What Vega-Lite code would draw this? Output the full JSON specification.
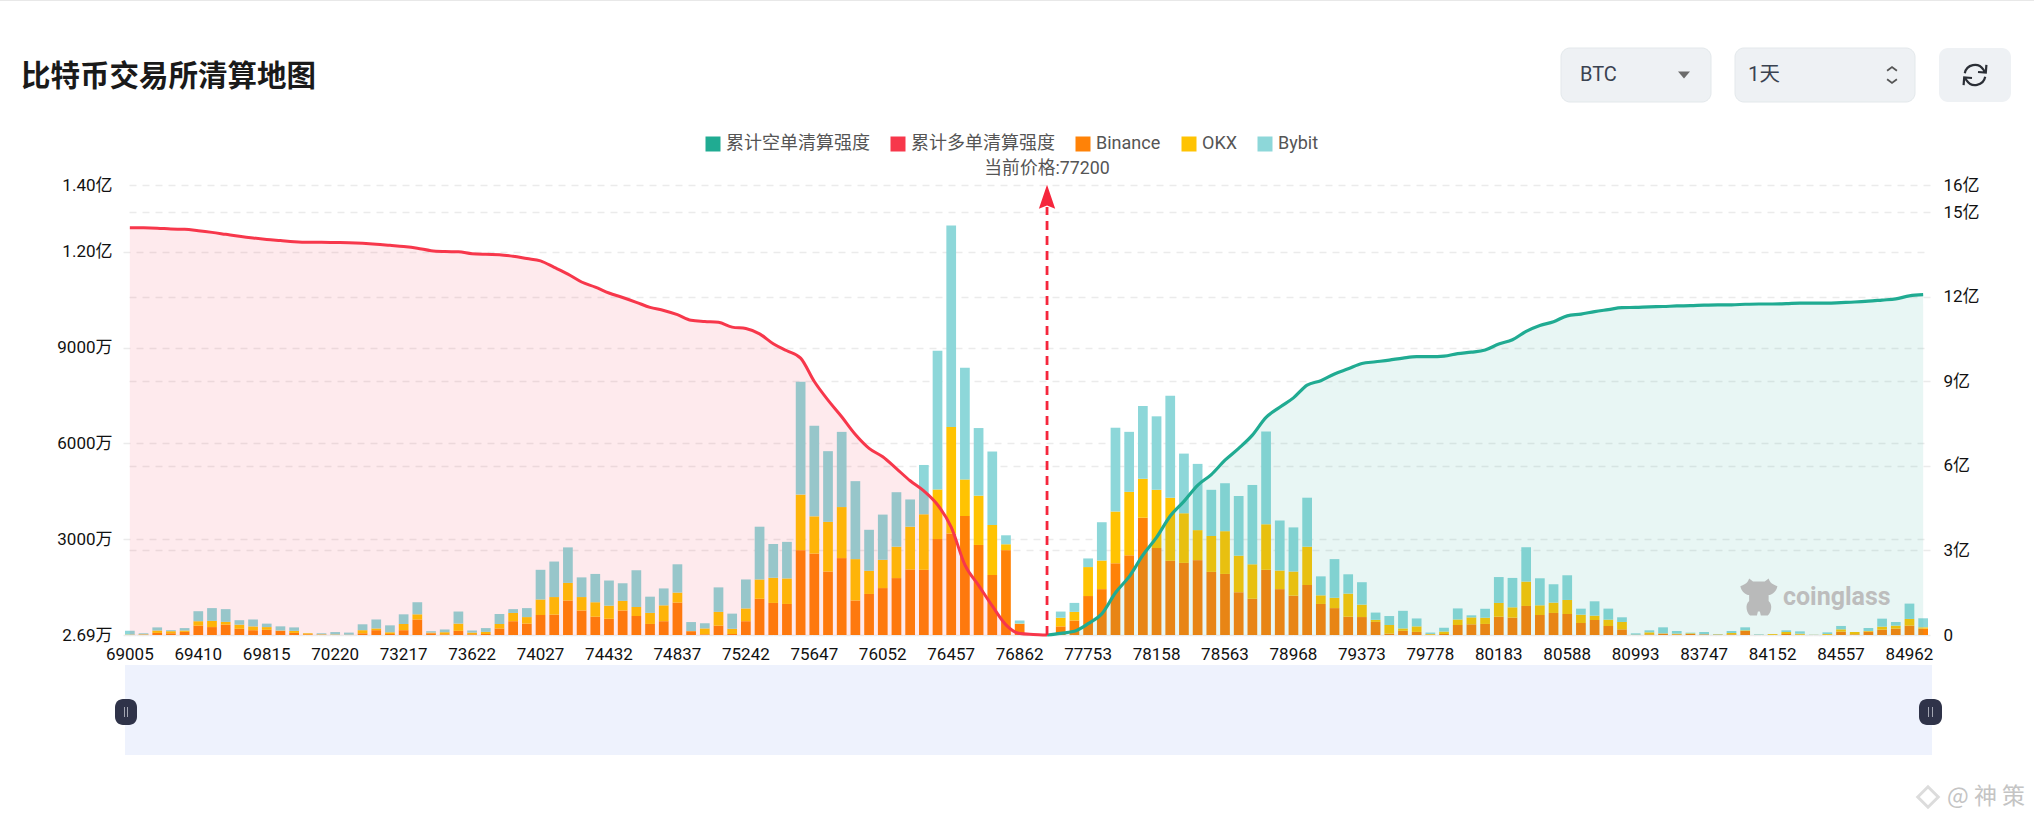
{
  "$schema": "https://vega.github.io/schema/vega-lite/v6.json",
  "width": 1807,
  "height": 450,
  "autosize": {"type": "none"},
  "padding": {"left": 123, "top": 185, "right": 104, "bottom": 188},
  "background": "#ffffff",
  "title": {
    "text": "比特币交易所清算地图",
    "anchor": "start",
    "frame": "group",
    "dx": -102,
    "offset": -92,
    "font": "Noto Sans CJK SC",
    "fontSize": 29.5,
    "fontWeight": "bold",
    "color": "#1a1a1a"
  },
  "config": {
    "view": {"stroke": null},
    "font": "Roboto, Noto Sans CJK SC"
  },
  "datasets": {
    "book": [
      {"price":69005,"Binance":0.03,"OKX":0.11,"Bybit":1.19,"long":1444},
      {"price":69086,"Binance":0.11,"OKX":0.11,"Bybit":0.32,"long":1444},
      {"price":69167,"Binance":0.65,"OKX":0.76,"Bybit":0.97,"long":1443},
      {"price":69248,"Binance":0.54,"OKX":0.65,"Bybit":0.32,"long":1440},
      {"price":69329,"Binance":0.97,"OKX":0.43,"Bybit":0.76,"long":1439},
      {"price":69410,"Binance":2.92,"OKX":1.40,"Bybit":3.13,"long":1434},
      {"price":69491,"Binance":2.48,"OKX":1.94,"Bybit":4.00,"long":1428},
      {"price":69572,"Binance":3.24,"OKX":0.86,"Bybit":4.00,"long":1421},
      {"price":69653,"Binance":1.94,"OKX":1.30,"Bybit":1.40,"long":1414},
      {"price":69734,"Binance":1.51,"OKX":1.19,"Bybit":2.16,"long":1408},
      {"price":69815,"Binance":1.62,"OKX":0.86,"Bybit":1.08,"long":1403},
      {"price":69896,"Binance":1.30,"OKX":0.11,"Bybit":1.30,"long":1399},
      {"price":69977,"Binance":0.65,"OKX":0.65,"Bybit":1.08,"long":1395},
      {"price":70058,"Binance":0.22,"OKX":0.32,"Bybit":0.02,"long":1393},
      {"price":70139,"Binance":0.11,"OKX":0.11,"Bybit":0.32,"long":1393},
      {"price":70220,"Binance":0.05,"OKX":0.11,"Bybit":0.76,"long":1392},
      {"price":70301,"Binance":0.05,"OKX":0.05,"Bybit":0.65,"long":1391},
      {"price":70382,"Binance":0.54,"OKX":0.97,"Bybit":1.84,"long":1389},
      {"price":73055,"Binance":1.51,"OKX":0.54,"Bybit":2.81,"long":1386},
      {"price":73136,"Binance":0.32,"OKX":0.54,"Bybit":2.16,"long":1382},
      {"price":73217,"Binance":1.51,"OKX":1.94,"Bybit":3.02,"long":1378},
      {"price":73298,"Binance":4.86,"OKX":1.62,"Bybit":3.78,"long":1372},
      {"price":73379,"Binance":0.54,"OKX":0.22,"Bybit":0.43,"long":1363},
      {"price":73460,"Binance":0.22,"OKX":0.65,"Bybit":0.86,"long":1360},
      {"price":73541,"Binance":1.30,"OKX":2.27,"Bybit":3.78,"long":1359},
      {"price":73622,"Binance":0.22,"OKX":0.54,"Bybit":0.65,"long":1352},
      {"price":73703,"Binance":0.32,"OKX":0.65,"Bybit":1.19,"long":1350},
      {"price":73784,"Binance":2.05,"OKX":1.40,"Bybit":3.13,"long":1349},
      {"price":73865,"Binance":4.32,"OKX":2.59,"Bybit":1.19,"long":1343},
      {"price":73946,"Binance":3.56,"OKX":2.05,"Bybit":2.81,"long":1335},
      {"price":74027,"Binance":6.26,"OKX":4.86,"Bybit":9.29,"long":1327},
      {"price":74108,"Binance":6.37,"OKX":5.51,"Bybit":11.12,"long":1304},
      {"price":74189,"Binance":10.8,"OKX":5.51,"Bybit":11.12,"long":1280},
      {"price":74270,"Binance":7.67,"OKX":4.21,"Bybit":6.16,"long":1252},
      {"price":74351,"Binance":5.72,"OKX":4.54,"Bybit":8.86,"long":1234},
      {"price":74432,"Binance":5.08,"OKX":4.10,"Bybit":7.88,"long":1213},
      {"price":74513,"Binance":7.67,"OKX":3.02,"Bybit":5.51,"long":1197},
      {"price":74594,"Binance":5.94,"OKX":2.81,"Bybit":11.56,"long":1180},
      {"price":74675,"Binance":3.46,"OKX":3.46,"Bybit":5.08,"long":1162},
      {"price":74756,"Binance":4.32,"OKX":4.97,"Bybit":5.29,"long":1151},
      {"price":74837,"Binance":10.15,"OKX":3.13,"Bybit":8.86,"long":1136},
      {"price":74918,"Binance":1.19,"OKX":0.05,"Bybit":2.81,"long":1116},
      {"price":74999,"Binance":0.22,"OKX":1.84,"Bybit":1.62,"long":1112},
      {"price":75080,"Binance":2.92,"OKX":4.32,"Bybit":7.67,"long":1109},
      {"price":75161,"Binance":0.32,"OKX":1.62,"Bybit":4.75,"long":1092},
      {"price":75242,"Binance":4.32,"OKX":4.00,"Bybit":9.07,"long":1087},
      {"price":75323,"Binance":11.34,"OKX":6.05,"Bybit":16.52,"long":1068},
      {"price":75404,"Binance":10.04,"OKX":7.88,"Bybit":10.58,"long":1033},
      {"price":75485,"Binance":9.72,"OKX":7.99,"Bybit":11.45,"long":1008},
      {"price":75566,"Binance":26.57,"OKX":17.39,"Bybit":35.32,"long":982},
      {"price":75647,"Binance":25.49,"OKX":11.66,"Bybit":28.40,"long":899},
      {"price":75728,"Binance":19.87,"OKX":15.55,"Bybit":22.14,"long":833},
      {"price":75809,"Binance":24.08,"OKX":15.98,"Bybit":23.54,"long":774},
      {"price":75890,"Binance":10.8,"OKX":12.96,"Bybit":24.41,"long":711},
      {"price":75971,"Binance":12.85,"OKX":7.24,"Bybit":12.85,"long":662},
      {"price":76052,"Binance":14.69,"OKX":8.86,"Bybit":14.15,"long":632},
      {"price":76133,"Binance":17.82,"OKX":9.83,"Bybit":17.06,"long":590},
      {"price":76214,"Binance":20.52,"OKX":13.39,"Bybit":8.53,"long":547},
      {"price":76295,"Binance":20.41,"OKX":17.39,"Bybit":15.44,"long":511},
      {"price":76376,"Binance":30.02,"OKX":15.55,"Bybit":43.42,"long":462},
      {"price":76457,"Binance":31.75,"OKX":33.37,"Bybit":63.07,"long":383},
      {"price":76538,"Binance":37.26,"OKX":11.45,"Bybit":34.99,"long":249},
      {"price":76619,"Binance":28.19,"OKX":15.44,"Bybit":21.17,"long":176},
      {"price":76700,"Binance":18.79,"OKX":15.66,"Bybit":23.0,"long":103},
      {"price":76781,"Binance":26.57,"OKX":1.84,"Bybit":2.81,"long":36},
      {"price":76862,"Binance":3.46,"OKX":0.11,"Bybit":0.97,"long":5},
      {"price":76943,"Binance":0,"OKX":0,"Bybit":0,"long":2},
      {"price":77200,"Binance":0,"OKX":0,"Bybit":0,"long":0,"short":0},
      {"price":77591,"Binance":2.7,"OKX":2.7,"Bybit":1.94,"short":6},
      {"price":77672,"Binance":4.54,"OKX":2.7,"Bybit":2.81,"short":13},
      {"price":77753,"Binance":12.2,"OKX":9.07,"Bybit":2.7,"short":40},
      {"price":77834,"Binance":14.36,"OKX":8.96,"Bybit":11.99,"short":75},
      {"price":77915,"Binance":22.46,"OKX":16.2,"Bybit":26.24,"short":150},
      {"price":77996,"Binance":24.95,"OKX":19.87,"Bybit":18.79,"short":207},
      {"price":78077,"Binance":36.72,"OKX":12.2,"Bybit":22.79,"short":283},
      {"price":78158,"Binance":27.22,"OKX":18.25,"Bybit":23.0,"short":346},
      {"price":78239,"Binance":23.22,"OKX":19.76,"Bybit":31.97,"short":422},
      {"price":78320,"Binance":22.57,"OKX":15.55,"Bybit":18.68,"short":474},
      {"price":78401,"Binance":23.44,"OKX":9.4,"Bybit":20.74,"short":531},
      {"price":78482,"Binance":19.76,"OKX":11.23,"Bybit":14.47,"short":569},
      {"price":78563,"Binance":19.12,"OKX":13.39,"Bybit":15.01,"short":620},
      {"price":78644,"Binance":13.39,"OKX":11.45,"Bybit":18.68,"short":662},
      {"price":78725,"Binance":11.34,"OKX":10.8,"Bybit":24.84,"short":709},
      {"price":78806,"Binance":20.41,"OKX":14.26,"Bybit":29.05,"short":772},
      {"price":78887,"Binance":14.36,"OKX":5.83,"Bybit":15.66,"short":808},
      {"price":78968,"Binance":12.31,"OKX":7.56,"Bybit":13.82,"short":841},
      {"price":79049,"Binance":15.66,"OKX":11.99,"Bybit":15.34,"short":886},
      {"price":79130,"Binance":9.72,"OKX":2.7,"Bybit":5.94,"short":902},
      {"price":79211,"Binance":8.42,"OKX":3.24,"Bybit":12.1,"short":926},
      {"price":79292,"Binance":5.72,"OKX":7.24,"Bybit":6.05,"short":944},
      {"price":79373,"Binance":5.62,"OKX":3.89,"Bybit":7.02,"short":963},
      {"price":79454,"Binance":4.1,"OKX":0.65,"Bybit":2.27,"short":969},
      {"price":79535,"Binance":0.43,"OKX":2.7,"Bybit":2.81,"short":975},
      {"price":79616,"Binance":1.3,"OKX":0.76,"Bybit":5.51,"short":982},
      {"price":79697,"Binance":0.97,"OKX":1.73,"Bybit":2.48,"short":987},
      {"price":79778,"Binance":0.11,"OKX":0.22,"Bybit":0.43,"short":987},
      {"price":79859,"Binance":0.32,"OKX":0.76,"Bybit":1.19,"short":989},
      {"price":79940,"Binance":3.13,"OKX":1.73,"Bybit":3.46,"short":998},
      {"price":80021,"Binance":3.35,"OKX":2.16,"Bybit":0.65,"short":1003},
      {"price":80102,"Binance":3.46,"OKX":1.94,"Bybit":2.81,"short":1011},
      {"price":80183,"Binance":5.72,"OKX":4.32,"Bybit":8.1,"short":1032},
      {"price":80264,"Binance":5.43,"OKX":3.24,"Bybit":9.2,"short":1047},
      {"price":80345,"Binance":9.09,"OKX":7.63,"Bybit":10.76,"short":1077},
      {"price":80426,"Binance":6.27,"OKX":3.03,"Bybit":8.46,"short":1098},
      {"price":80507,"Binance":6.9,"OKX":3.24,"Bybit":5.75,"short":1111},
      {"price":80588,"Binance":6.58,"OKX":4.39,"Bybit":7.73,"short":1132},
      {"price":80669,"Binance":3.76,"OKX":2.61,"Bybit":1.88,"short":1138},
      {"price":80750,"Binance":4.7,"OKX":1.36,"Bybit":4.49,"short":1147},
      {"price":80831,"Binance":2.82,"OKX":1.99,"Bybit":3.45,"short":1154},
      {"price":80912,"Binance":1.78,"OKX":2.3,"Bybit":1.46,"short":1161},
      {"price":80993,"Binance":0.1,"OKX":0,"Bybit":0.42,"short":1162},
      {"price":81074,"Binance":0.21,"OKX":0.63,"Bybit":0.63,"short":1164},
      {"price":81155,"Binance":0.42,"OKX":0.1,"Bybit":1.88,"short":1165},
      {"price":83585,"Binance":0.21,"OKX":0.21,"Bybit":0.84,"short":1167},
      {"price":83666,"Binance":0.31,"OKX":0.21,"Bybit":0.21,"short":1168},
      {"price":83747,"Binance":0.21,"OKX":0,"Bybit":0.73,"short":1170},
      {"price":83828,"Binance":0.1,"OKX":0.1,"Bybit":0.1,"short":1171},
      {"price":83909,"Binance":0.21,"OKX":0.42,"Bybit":0.63,"short":1171},
      {"price":83990,"Binance":1.25,"OKX":0.21,"Bybit":0.94,"short":1173},
      {"price":84071,"Binance":0.05,"OKX":0,"Bybit":0.16,"short":1174},
      {"price":84152,"Binance":0.05,"OKX":0.26,"Bybit":0,"short":1174},
      {"price":84233,"Binance":0.31,"OKX":0.63,"Bybit":0.52,"short":1175},
      {"price":84314,"Binance":0.1,"OKX":0.31,"Bybit":0.73,"short":1177},
      {"price":84395,"Binance":0.02,"OKX":0.02,"Bybit":0.05,"short":1177},
      {"price":84476,"Binance":0.05,"OKX":0.26,"Bybit":0.52,"short":1177},
      {"price":84557,"Binance":1.05,"OKX":0.73,"Bybit":1.05,"short":1179},
      {"price":84638,"Binance":0.21,"OKX":0.73,"Bybit":0,"short":1181},
      {"price":84719,"Binance":1.05,"OKX":0.21,"Bybit":0.94,"short":1184},
      {"price":84800,"Binance":1.67,"OKX":0.94,"Bybit":2.51,"short":1188},
      {"price":84881,"Binance":1.99,"OKX":0.94,"Bybit":1.15,"short":1192},
      {"price":84962,"Binance":2.93,"OKX":2.09,"Bybit":4.81,"short":1203},
      {"price":85043,"Binance":1.99,"OKX":0.42,"Bybit":2.82,"short":1207}
    ]
  },
  "layer": [
    {
      "data": {"name": "book"},
      "layer": [
        {
          "transform": [
            {"fold": ["Binance", "OKX", "Bybit"], "as": ["exchange", "amount"]},
            {"calculate": "indexof(['Binance','OKX','Bybit'], datum.exchange)", "as": "rank"}
          ],
          "mark": {"type": "bar"},
          "encoding": {
            "x": {
              "field": "price",
              "type": "ordinal",
              "title": null,
              "scale": {"paddingInner": 0.29, "paddingOuter": 0.145},
              "axis": {
                "values": [69005,69410,69815,70220,73217,73622,74027,74432,74837,75242,75647,76052,76457,76862,77753,78158,78563,78968,79373,79778,80183,80588,80993,83747,84152,84557,84962],
                "labelAngle": 0,
                "labelFont": "Roboto",
                "labelFontSize": 17,
                "labelColor": "#111111",
                "labelPadding": 11,
                "labelOverlap": false,
                "ticks": false,
                "domain": false
              }
            },
            "y": {
              "field": "amount",
              "type": "quantitative",
              "stack": "zero",
              "title": null,
              "scale": {"domain": [0, 140.9], "nice": false},
              "axis": {
                "orient": "left",
                "values": [0, 30, 60, 90, 120, 140.9],
                "labelExpr": "datum.value == 0 ? '2.69万' : datum.value == 140.9 ? '1.40亿' : datum.value > 100 ? format(datum.value / 100, '.2f') + '亿' : format(datum.value * 100, 'd') + '万'",
                "labelFontSize": 17,
                "labelColor": "#111111",
                "labelPadding": 11,
                "ticks": false,
                "domain": false,
                "grid": true,
                "gridColor": "#ebebeb",
                "gridDash": [7, 6],
                "gridWidth": 1.5,
                "gridOpacity": {"condition": {"test": "datum.value == 140.9", "value": 0}, "value": 1}
              }
            },
            "color": {
              "field": "exchange",
              "type": "nominal",
              "scale": {
                "domain": ["累计空单清算强度", "累计多单清算强度", "Binance", "OKX", "Bybit"],
                "range": ["#20ab92", "#f7374b", "#ff8207", "#ffc302", "#8dd7d9"]
              },
              "legend": {
                "orient": "none",
                "legendX": 581,
                "legendY": -50,
                "direction": "horizontal",
                "columns": 5,
                "title": null,
                "symbolType": "square",
                "symbolSize": 225,
                "symbolStrokeWidth": 0,
                "symbolOpacity": 1,
                "labelFont": "Roboto, Noto Sans CJK SC",
                "labelFontSize": 18,
                "labelColor": "#555555",
                "labelOffset": 4,
                "columnPadding": 19,
                "labelLimit": 300
              }
            },
            "order": {"field": "rank", "type": "quantitative"}
          }
        },
        {
          "mark": {"type": "area", "fill": "#f5354a", "opacity": 0.1, "interpolate": "monotone"},
          "encoding": {
            "x": {"field": "price", "type": "ordinal"},
            "y": {
              "field": "long",
              "type": "quantitative",
              "title": null,
              "scale": {"domain": [0, 1596], "nice": false},
              "axis": {
                "orient": "right",
                "values": [0, 300, 600, 900, 1200, 1500, 1596],
                "labelExpr": "datum.value == 1596 ? '16亿' : datum.value == 0 ? '0' : (datum.value / 100) + '亿'",
                "labelFontSize": 17,
                "labelColor": "#111111",
                "labelPadding": 13,
                "ticks": false,
                "domain": false,
                "grid": true,
                "gridColor": "#ebebeb",
                "gridDash": [7, 6],
                "gridWidth": 1.5
              }
            }
          }
        },
        {
          "mark": {"type": "area", "fill": "#20ab92", "opacity": 0.1, "interpolate": "monotone"},
          "encoding": {
            "x": {"field": "price", "type": "ordinal"},
            "y": {"field": "short", "type": "quantitative", "scale": {"domain": [0, 1596], "nice": false}, "axis": null}
          }
        },
        {
          "mark": {"type": "line", "stroke": "#f7374b", "strokeWidth": 3, "interpolate": "monotone"},
          "encoding": {
            "x": {"field": "price", "type": "ordinal"},
            "y": {"field": "long", "type": "quantitative", "scale": {"domain": [0, 1596], "nice": false}, "axis": null}
          }
        },
        {
          "mark": {"type": "line", "stroke": "#20ab92", "strokeWidth": 3.2, "interpolate": "monotone"},
          "encoding": {
            "x": {"field": "price", "type": "ordinal"},
            "y": {"field": "short", "type": "quantitative", "scale": {"domain": [0, 1596], "nice": false}, "axis": null}
          }
        },
        {
          "data": {"values": [{"price": 77200, "label": "当前价格:77200"}]},
          "layer": [
            {
              "mark": {"type": "rule", "stroke": "#f5263c", "strokeWidth": 2.8, "strokeDash": [9, 6]},
              "encoding": {
                "x": {"field": "price", "type": "ordinal"},
                "y": {"datum": 0, "type": "quantitative", "scale": {"domain": [0, 140.9], "nice": false}, "axis": null},
                "y2": {"datum": 134}
              }
            },
            {
              "mark": {"type": "point", "filled": true, "fill": "#f5263c", "opacity": 1, "size": 576, "shape": "M0,-1L0.68,1L0,0.72L-0.68,1Z"},
              "encoding": {
                "x": {"field": "price", "type": "ordinal"},
                "y": {"datum": 137.2, "type": "quantitative", "scale": {"domain": [0, 140.9], "nice": false}, "axis": null}
              }
            },
            {
              "mark": {"type": "text", "fontSize": 17.8, "color": "#555555", "baseline": "middle"},
              "encoding": {
                "x": {"field": "price", "type": "ordinal"},
                "y": {"datum": 146, "type": "quantitative", "scale": {"domain": [0, 140.9], "nice": false}, "axis": null},
                "text": {"field": "label"}
              }
            }
          ],
          "resolve": {"scale": {"y": "independent"}}
        },
        {
          "data": {"values": [{"price": 84071, "label": "coinglass"}]},
          "layer": [
            {
              "mark": {"type": "point", "filled": true, "fill": "#b4b4b4", "opacity": 0.9, "size": 1521, "shape": "M-0.95,-0.55C-0.7,-0.65 -0.55,-0.75 -0.5,-0.95L-0.3,-0.8L0.3,-0.8L0.5,-0.95C0.55,-0.75 0.7,-0.65 0.95,-0.55C0.9,-0.25 0.65,-0.1 0.5,-0.1L0.5,0.2C0.75,0.4 0.6,0.85 0.45,0.95L0.1,0.95L0.05,0.75L-0.05,0.75L-0.1,0.95L-0.45,0.95C-0.6,0.85 -0.75,0.4 -0.5,0.2L-0.5,-0.1C-0.65,-0.1 -0.9,-0.25 -0.95,-0.55Z"},
              "encoding": {
                "x": {"field": "price", "type": "ordinal"},
                "y": {"datum": 11.9, "type": "quantitative", "scale": {"domain": [0, 140.9], "nice": false}, "axis": null}
              }
            },
            {
              "mark": {"type": "text", "fontSize": 25, "fontWeight": "bold", "color": "#bdbdbd", "align": "left", "baseline": "middle", "dx": 24},
              "encoding": {
                "x": {"field": "price", "type": "ordinal"},
                "y": {"datum": 11.9, "type": "quantitative", "scale": {"domain": [0, 140.9], "nice": false}, "axis": null},
                "text": {"field": "label"}
              }
            }
          ],
          "resolve": {"scale": {"y": "independent"}}
        }
      ],
      "resolve": {"scale": {"y": "independent"}}
    },
    {
      "data": {"values": [{"part": "page"}]},
      "layer": [
        {
          "mark": {"type": "rect", "fill": "#eef2fd"},
          "encoding": {
            "x": {"datum": 125, "type": "quantitative", "axis": null, "scale": {"domain": [0, 2034], "range": [-123, 1911], "nice": false, "zero": false}},
            "x2": {"datum": 1932},
            "y": {"datum": 665, "type": "quantitative", "axis": null, "scale": {"domain": [0, 823], "range": [-185, 638], "nice": false, "zero": false}},
            "y2": {"datum": 755}
          }
        },
        {
          "mark": {"type": "rect", "fill": "#2f3349", "cornerRadius": 8},
          "encoding": {
            "x": {"datum": 115, "type": "quantitative", "axis": null},
            "x2": {"datum": 137},
            "y": {"datum": 699, "type": "quantitative", "axis": null},
            "y2": {"datum": 725}
          }
        },
        {
          "mark": {"type": "rect", "fill": "#2f3349", "cornerRadius": 8},
          "encoding": {
            "x": {"datum": 1919, "type": "quantitative", "axis": null},
            "x2": {"datum": 1942},
            "y": {"datum": 699, "type": "quantitative", "axis": null},
            "y2": {"datum": 725}
          }
        },
        {
          "mark": {"type": "rect", "fill": "#a3a6b2"},
          "encoding": {
            "x": {"datum": 124, "type": "quantitative", "axis": null},
            "x2": {"datum": 125},
            "y": {"datum": 707, "type": "quantitative", "axis": null},
            "y2": {"datum": 717}
          }
        },
        {
          "mark": {"type": "rect", "fill": "#a3a6b2"},
          "encoding": {
            "x": {"datum": 127, "type": "quantitative", "axis": null},
            "x2": {"datum": 128},
            "y": {"datum": 707, "type": "quantitative", "axis": null},
            "y2": {"datum": 717}
          }
        },
        {
          "mark": {"type": "rect", "fill": "#a3a6b2"},
          "encoding": {
            "x": {"datum": 1928, "type": "quantitative", "axis": null},
            "x2": {"datum": 1929},
            "y": {"datum": 707, "type": "quantitative", "axis": null},
            "y2": {"datum": 717}
          }
        },
        {
          "mark": {"type": "rect", "fill": "#a3a6b2"},
          "encoding": {
            "x": {"datum": 1932, "type": "quantitative", "axis": null},
            "x2": {"datum": 1933},
            "y": {"datum": 707, "type": "quantitative", "axis": null},
            "y2": {"datum": 717}
          }
        },
        {
          "mark": {"type": "rect", "fill": "#e8e8e8"},
          "encoding": {
            "x": {"datum": 0, "type": "quantitative", "axis": null},
            "x2": {"datum": 2034},
            "y": {"datum": 0, "type": "quantitative", "axis": null},
            "y2": {"datum": 1}
          }
        },
        {
          "mark": {"type": "rect", "fill": "#eef1f4", "stroke": "#e3e8eb", "cornerRadius": 9},
          "encoding": {
            "x": {"datum": 1561, "type": "quantitative", "axis": null},
            "x2": {"datum": 1711},
            "y": {"datum": 48, "type": "quantitative", "axis": null},
            "y2": {"datum": 102}
          }
        },
        {
          "mark": {"type": "rect", "fill": "#eef1f4", "stroke": "#e3e8eb", "cornerRadius": 9},
          "encoding": {
            "x": {"datum": 1735, "type": "quantitative", "axis": null},
            "x2": {"datum": 1915},
            "y": {"datum": 48, "type": "quantitative", "axis": null},
            "y2": {"datum": 102}
          }
        },
        {
          "mark": {"type": "rect", "fill": "#eef1f4", "cornerRadius": 9},
          "encoding": {
            "x": {"datum": 1939, "type": "quantitative", "axis": null},
            "x2": {"datum": 2011},
            "y": {"datum": 48, "type": "quantitative", "axis": null},
            "y2": {"datum": 102}
          }
        },
        {
          "mark": {"type": "text", "text": "BTC", "fontSize": 20, "color": "#3a4250", "align": "left", "baseline": "middle"},
          "encoding": {
            "x": {"datum": 1580, "type": "quantitative", "axis": null},
            "y": {"datum": 75, "type": "quantitative", "axis": null}
          }
        },
        {
          "mark": {"type": "text", "text": "1天", "fontSize": 20.5, "color": "#3a4250", "align": "left", "baseline": "middle"},
          "encoding": {
            "x": {"datum": 1748, "type": "quantitative", "axis": null},
            "y": {"datum": 75, "type": "quantitative", "axis": null}
          }
        },
        {
          "mark": {"type": "point", "filled": true, "fill": "#6b6b6b", "opacity": 1, "size": 144, "shape": "M-1,-0.6L1,-0.6L0,0.6Z"},
          "encoding": {
            "x": {"datum": 1684, "type": "quantitative", "axis": null},
            "y": {"datum": 75, "type": "quantitative", "axis": null}
          }
        },
        {
          "mark": {"type": "point", "filled": false, "stroke": "#555555", "strokeWidth": 1.8, "opacity": 1, "size": 150, "shape": "M-0.8,-0.7L0,-1.3L0.8,-0.7M-0.8,0.7L0,1.3L0.8,0.7"},
          "encoding": {
            "x": {"datum": 1892, "type": "quantitative", "axis": null},
            "y": {"datum": 75, "type": "quantitative", "axis": null}
          }
        },
        {
          "mark": {"type": "point", "filled": false, "stroke": "#2b2f36", "strokeWidth": 2.2, "opacity": 1, "size": 576, "shape": "M-0.85,-0.15A0.85,0.85 0 0 1 0.7,-0.45L0.9,-0.2M0.95,-0.85L0.9,-0.2L0.25,-0.25M0.85,0.15A0.85,0.85 0 0 1 -0.7,0.45L-0.9,0.2M-0.95,0.85L-0.9,0.2L-0.25,0.25"},
          "encoding": {
            "x": {"datum": 1975, "type": "quantitative", "axis": null},
            "y": {"datum": 75, "type": "quantitative", "axis": null}
          }
        },
        {
          "mark": {"type": "point", "filled": false, "stroke": "#dcdcdc", "strokeWidth": 3, "opacity": 1, "shape": "diamond", "size": 420},
          "encoding": {
            "x": {"datum": 1928, "type": "quantitative", "axis": null},
            "y": {"datum": 797, "type": "quantitative", "axis": null}
          }
        },
        {
          "mark": {"type": "text", "text": "@ 神 策", "font": "Noto Sans CJK SC", "fontSize": 23, "color": "#c4c4c4", "align": "left", "baseline": "middle"},
          "encoding": {
            "x": {"datum": 1947, "type": "quantitative", "axis": null},
            "y": {"datum": 797, "type": "quantitative", "axis": null}
          }
        }
      ]
    }
  ],
  "resolve": {"scale": {"x": "independent", "y": "independent", "color": "independent"}}
}
